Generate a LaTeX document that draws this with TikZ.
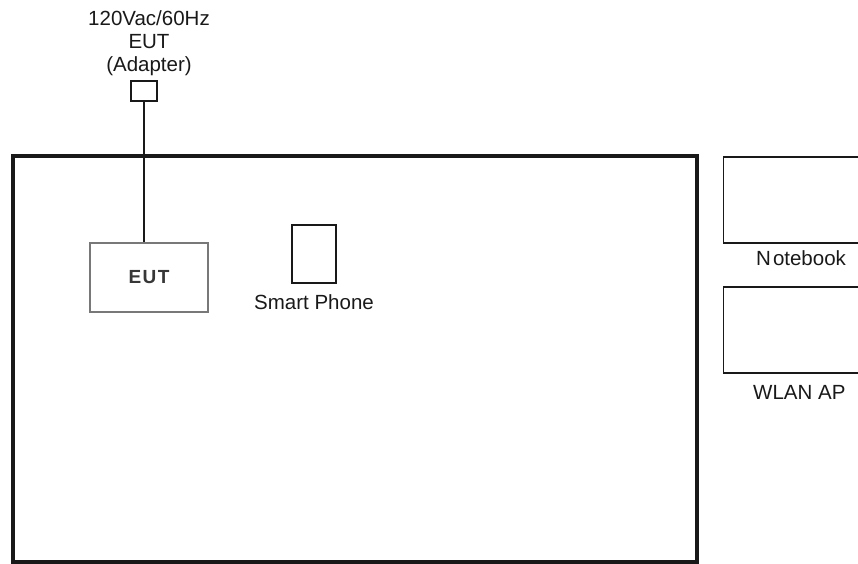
\documentclass[tikz,border=0pt]{standalone}
\usepackage{fontspec}
\setmainfont{Liberation Sans}
\usetikzlibrary{positioning}
\definecolor{tsedge}{RGB}{25,25,25}
\definecolor{tsgray}{RGB}{120,120,120}
\definecolor{tstext}{RGB}{55,55,55}
\tikzset{
  devbox/.style={draw=tsedge, line width=1.3pt, inner sep=0pt},
  eutbox/.style={draw=tsgray, line width=2.5pt, inner sep=0pt,
    font=\fontsize{19}{22}\selectfont\bfseries, text=tstext},
  room/.style={draw=tsedge, line width=4pt},
  lbl/.style={font=\fontsize{20.5}{23}\selectfont, inner sep=0pt, align=center, text=tsedge},
  wire/.style={draw=tsedge, line width=1.3pt}
}
\begin{document}
\begin{tikzpicture}[x=1pt, y=-1pt]
  \clip (0,0) rectangle (858,563);
  \useasboundingbox (0,0) rectangle (858,563);
  % test room
  \draw[room] (12.5,156) rectangle (697,561.5);
  % adapter and EUT
  \node[devbox, minimum width=26pt, minimum height=20pt] (adp) at (144,91) {};
  \node[lbl, above=4pt of adp, xshift=5pt] (adptxt) {120Vac/60Hz\\EUT\\(Adapter)};
  \node[eutbox, minimum width=118pt, minimum height=69pt] (eut) at (149,277.5) {E\kern1.5pt U\kern1.5pt T};
  \draw[wire] (adp.south) -- (eut.north -| adp.south);
  % phone
  \node[devbox, minimum width=44pt, minimum height=58pt] (phone) at (314,254) {};
  \node[lbl, below=11pt of phone] (phonetxt) {Smart Phone};
  % support units
  \node[devbox, minimum width=160pt, minimum height=86pt, anchor=west] (nb) at (723,200) {};
  \node[lbl, below=7pt of nb.south west, anchor=north west, xshift=33pt] (nbtxt) {N\kern2pt otebook};
  \node[devbox, minimum width=160pt, minimum height=86pt, anchor=west] (ap) at (723,330) {};
  \node[lbl, below=12pt of ap.south west, anchor=north west, xshift=30pt] (aptxt) {WLAN AP};
\end{tikzpicture}
\end{document}
